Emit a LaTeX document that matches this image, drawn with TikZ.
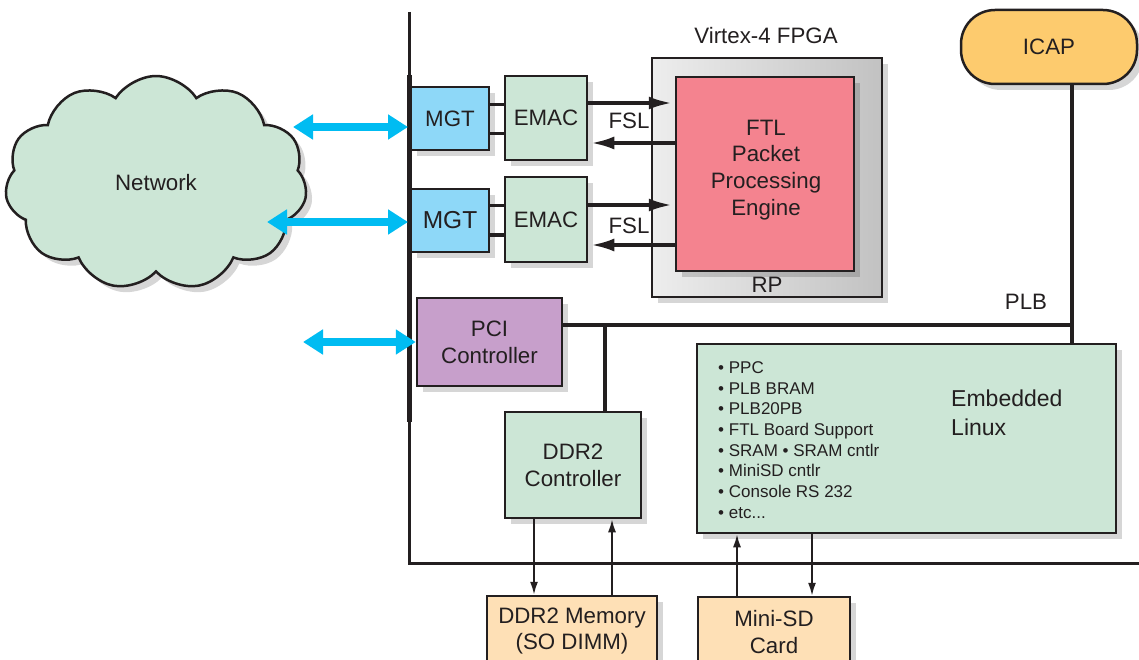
\documentclass[tikz,border=0pt]{standalone}
\usepackage{fontspec}
\setmainfont{Liberation Sans}
\usetikzlibrary{shapes.symbols,shadows,arrows.meta,calc}
\definecolor{txt}{HTML}{231F20}
\definecolor{edge}{HTML}{231F20}
\definecolor{grn}{HTML}{CCE6D6}
\definecolor{mgtblue}{HTML}{8ED8F8}
\definecolor{pinkc}{HTML}{F4838F}
\definecolor{icapc}{HTML}{FDCB6E}
\definecolor{peach}{HTML}{FEE0B6}
\definecolor{purp}{HTML}{C79FCB}
\definecolor{cyanar}{HTML}{00BCF2}
\begin{document}
\begin{tikzpicture}[x=1pt,y=-1pt,
  every node/.style={text=txt, font=\fontsize{22.3pt}{26.8pt}\selectfont},
  shadowed/.style={drop shadow={shadow xshift=6pt, shadow yshift=-6pt, opacity=0.16, fill=black}},
  box/.style={draw=edge, line width=2.5pt, inner sep=0pt, align=center, shadowed},
  bus/.style={draw=edge, line width=3.5pt},
  link/.style={draw=edge, line width=3pt},
  fsl/.style={draw=edge, line width=3.5pt, -{Latex[length=23pt,width=13pt]}, shorten >=3pt},
  thinarr/.style={draw=edge, line width=1.8pt, -{Latex[length=13pt,width=8pt]}},
  bluearr/.style={draw=cyanar, line width=8pt, {Triangle[length=20pt,width=24pt]}-{Triangle[length=20pt,width=24pt]}},
  lbl/.style={inner sep=0pt}
]
\fill[white] (0,0) rectangle (1139,660);
\useasboundingbox (0,0) rectangle (1139,660);

% main bus frame
\coordinate (bt) at (409,12);
\coordinate (bm1) at (409,75);
\coordinate (bm2) at (409,422);
\coordinate (bb) at (409,563);
\coordinate (br) at (1139,563);
\draw[edge, line width=3pt] (bt) -- (bb) -- (br);
\draw[edge, line width=5pt] (bm1) -- (bm2);

% network cloud
\node[cloud, cloud puffs=11, cloud puff arc=115, cloud ignores aspect,
      minimum width=302pt, minimum height=214pt, inner sep=0pt,
      draw=edge, line width=2.5pt, fill=grn, shadowed] (net) at (156,183) {Network};

% MGT / EMAC
\node[box, fill=mgtblue, minimum width=78pt, minimum height=63pt] (mgt1) at (450,118.5) {MGT};
\node[box, fill=grn, minimum width=82pt, minimum height=84pt] (emac1) at (546,118) {EMAC};
\node[box, fill=mgtblue, minimum width=78pt, minimum height=63pt, font=\fontsize{24.5pt}{28pt}\selectfont] (mgt2) at (450,220.5) {MGT};
\node[box, fill=grn, minimum width=82pt, minimum height=85pt] (emac2) at (546,219.5) {EMAC};
\draw[link] (mgt1.east |- 0,105) -- (emac1.west |- 0,105);
\draw[link] (mgt1.east |- 0,134) -- (emac1.west |- 0,134);
\draw[link] (mgt2.east |- 0,206) -- (emac2.west |- 0,206);
\draw[link] (mgt2.east |- 0,235) -- (emac2.west |- 0,235);

% FPGA
\node (virtex) at (766,36) {Virtex-4 FPGA};
\node[box, left color=black!7, right color=black!24, minimum width=230pt, minimum height=239pt] (rp) at (767,177.5) {};
\node[box, fill=pinkc, minimum width=178pt, minimum height=194pt] (ftl) at (765,174) {};
\node[lbl, align=center] (ftltxt) at (766,170) {FTL\\Packet\\Processing\\Engine};
\node[lbl] (rplbl) at (767,285) {RP};

% FSL links
\draw[fsl] (emac1.east |- 0,103) -- (ftl.west |- 0,103);
\draw[fsl] (ftl.west |- 0,143) -- (emac1.east |- 0,143);
\node[lbl] (fsl1) at (629,121) {FSL};
\draw[fsl] (emac2.east |- 0,205) -- (ftl.west |- 0,205);
\draw[fsl] (ftl.west |- 0,245) -- (emac2.east |- 0,245);
\node[lbl] (fsl2) at (629,226) {FSL};

% blue external links
\coordinate (c1) at (293,127);
\coordinate (c2) at (267,222);
\coordinate (c3) at (303,342);
\draw[bluearr, shorten >=1pt] (c1) -- (bt |- c1);
\draw[bluearr, shorten >=1pt] (c2) -- (bt |- c2);

% PCI
\node[box, fill=purp, minimum width=145pt, minimum height=88pt] (pci) at (489.5,342) {PCI\\Controller};
\draw[bluearr] (c3) -- (pci.west);

% ICAP
\node[box, fill=icapc, rounded corners=34pt, minimum width=176pt, minimum height=74pt] (icap) at (1049,47) {ICAP};

% Embedded Linux
\node[box, fill=grn, minimum width=419pt, minimum height=189pt] (linux) at (906.5,438.5) {};
\node[lbl, anchor=west, align=left, font=\fontsize{17pt}{20.7pt}\selectfont] (list) at (718,440) {%
• PPC\\• PLB BRAM\\• PLB20PB\\• FTL Board Support\\• SRAM • SRAM cntlr\\• MiniSD cntlr\\• Console RS 232\\• etc...};
\node[lbl, anchor=west, align=left, font=\fontsize{23pt}{29pt}\selectfont] (emb) at (951,413) {Embedded\\Linux};

% PLB
\coordinate (j) at (605,325);
\coordinate (icapdrop) at (1072,325);
\draw[bus] (pci.east |- j) -- (icapdrop);
\draw[bus] (icap.south -| icapdrop) -- (linux.north -| icapdrop);
\draw[bus] (j) -- (605,412);
\node[lbl] (plb) at (1026,302) {PLB};

% DDR2 controller
\node[box, fill=grn, minimum width=136pt, minimum height=106pt] (ddrc) at (573,465) {DDR2\\Controller};

% bottom memory devices
\node[box, fill=peach, minimum width=170pt, minimum height=70pt] (ddrm) at (572,631) {DDR2 Memory\\(SO DIMM)};
\node[box, fill=peach, minimum width=152pt, minimum height=70pt] (minisd) at (774,632) {Mini-SD\\Card};

\draw[thinarr] (ddrc.south -| 534,0) -- (ddrm.north -| 534,0);
\draw[thinarr] (ddrm.north -| 612,0) -- (ddrc.south -| 612,0);
\draw[thinarr] (minisd.north -| 737,0) -- (linux.south -| 737,0);
\draw[thinarr] (linux.south -| 812,0) -- (minisd.north -| 812,0);
\end{tikzpicture}
\end{document}
